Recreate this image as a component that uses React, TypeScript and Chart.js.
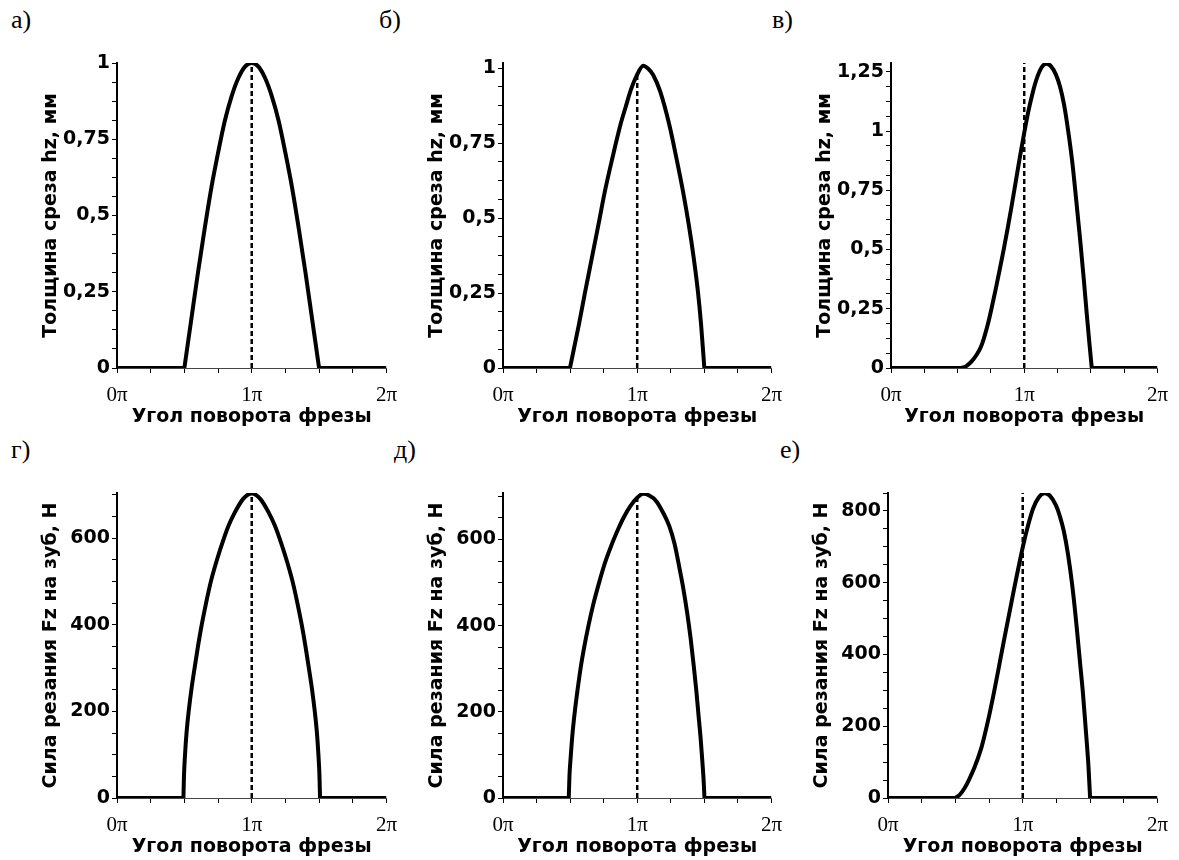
import React, { useEffect, useRef } from 'react';
import { Chart, registerables } from 'chart.js';
Chart.register(...registerables);

// ---------- axis ticks ----------
const xMajorTicks = [0, 1, 2];
const xMajorLabels = ['0π', '1π', '2π'];
const xMinorStep = 0.25;

const hMajorTicks = [0, 0.25, 0.5, 0.75, 1];
const hMajorLabels = ['0', '0,25', '0,5', '0,75', '1'];
const hMajorTicksC = [0, 0.25, 0.5, 0.75, 1, 1.25];
const hMajorLabelsC = ['0', '0,25', '0,5', '0,75', '1', '1,25'];
const hMinorStep = 0.0625;

const fMajorTicks = [0, 200, 400, 600];
const fMajorLabels = ['0', '200', '400', '600'];
const fMajorTicksE = [0, 200, 400, 600, 800];
const fMajorLabelsE = ['0', '200', '400', '600', '800'];
const fMinorStep = 50;

// ---------- data (angle in units of π) ----------
// а) chip thickness hz, mm
const aTheta = [0.5, 0.55, 0.6, 0.65, 0.7, 0.75, 0.8, 0.85, 0.9, 0.95, 1.0, 1.05, 1.1, 1.15, 1.2, 1.25, 1.3, 1.35, 1.4, 1.45, 1.5];
const aH = [0, 0.155, 0.31, 0.455, 0.59, 0.705, 0.81, 0.89, 0.95, 0.988, 1.0, 0.988, 0.95, 0.89, 0.81, 0.705, 0.59, 0.455, 0.31, 0.155, 0];

// б) chip thickness hz, mm
const bTheta = [0.499, 0.565, 0.613, 0.662, 0.711, 0.759, 0.815, 0.875, 0.915, 0.953, 0.996, 1.045, 1.082, 1.118, 1.171, 1.239, 1.292, 1.341, 1.384, 1.421, 1.452, 1.476, 1.5];
const bH = [0, 0.144, 0.256, 0.367, 0.478, 0.589, 0.7, 0.811, 0.872, 0.928, 0.975, 1.008, 0.998, 0.978, 0.922, 0.811, 0.7, 0.589, 0.478, 0.367, 0.256, 0.144, 0];

// в) chip thickness hz, mm
const cTheta = [0.518, 0.54, 0.565, 0.591, 0.62, 0.645, 0.664, 0.685, 0.705, 0.725, 0.755, 0.786, 0.817, 0.848, 0.878, 0.908, 0.938, 0.969, 1.0, 1.031, 1.065, 1.092, 1.13, 1.165, 1.2, 1.238, 1.27, 1.299, 1.33, 1.36, 1.39, 1.421, 1.447, 1.47, 1.49, 1.507];
const cH = [0, 0.002, 0.008, 0.02, 0.038, 0.058, 0.076, 0.104, 0.14, 0.18, 0.252, 0.333, 0.418, 0.506, 0.597, 0.692, 0.792, 0.895, 0.992, 1.083, 1.165, 1.218, 1.268, 1.284, 1.274, 1.238, 1.185, 1.111, 1.0, 0.872, 0.71, 0.534, 0.375, 0.224, 0.1, 0];

// г) cutting force Fz, N
const dTheta = [0.493, 0.497, 0.505, 0.516, 0.532, 0.552, 0.576, 0.601, 0.629, 0.661, 0.697, 0.742, 0.794, 0.83, 0.871, 0.935, 1.0, 1.065, 1.129, 1.17, 1.206, 1.258, 1.303, 1.339, 1.371, 1.399, 1.424, 1.448, 1.468, 1.484, 1.495, 1.503, 1.507];
const dF = [0, 50, 100, 150, 200, 250, 300, 350, 400, 450, 500, 550, 600, 630, 657, 690, 703, 690, 657, 630, 600, 550, 500, 450, 400, 350, 300, 250, 200, 150, 100, 50, 0];

// д) cutting force Fz, N
const ddTheta = [0.49, 0.495, 0.505, 0.518, 0.534, 0.555, 0.577, 0.605, 0.636, 0.673, 0.716, 0.762, 0.812, 0.855, 0.897, 0.95, 1.0, 1.043, 1.09, 1.142, 1.19, 1.239, 1.278, 1.312, 1.344, 1.372, 1.398, 1.421, 1.44, 1.457, 1.472, 1.484, 1.494, 1.501];
const ddF = [0, 50, 98, 150, 198, 250, 299, 350, 399, 450, 500, 548, 590, 622, 650, 678, 697, 706, 702, 689, 664, 631, 590, 538, 485, 430, 370, 307, 250, 191, 140, 90, 45, 0];

// е) cutting force Fz, N
const eTheta = [0.496, 0.53, 0.569, 0.6, 0.641, 0.69, 0.714, 0.75, 0.787, 0.823, 0.859, 0.932, 1.004, 1.04, 1.077, 1.12, 1.161, 1.2, 1.246, 1.276, 1.306, 1.337, 1.367, 1.397, 1.427, 1.447, 1.464, 1.478, 1.488, 1.5];
const eF = [0, 8, 28, 50, 84, 136, 170, 228, 295, 365, 436, 575, 705, 760, 807, 838, 849, 843, 816, 785, 742, 677, 594, 490, 371, 292, 210, 142, 88, 0];

// vertical dashed marker at 1π: top value; axis maxima
const dashTops = [1.0, 0.98, 1.287, 704, 698, 850];
const yMaxes = [1.0, 1.017, 1.287, 704, 708, 850];

const titleH = 'Толщина среза hz, мм';
const titleF = 'Сила резания Fz на зуб, Н';
const titleX = 'Угол поворота фрезы';

// ---------- layout ----------
const Y_W = 90;
const PAD_T = 25;
const PAD_R = 14;
const X_H = 62;

type PanelCfg = {
  letter: string;
  lx: number;
  ly: number;
  theta: number[];
  vals: number[];
  yMax: number;
  majors: number[];
  labels: string[];
  minorStep: number;
  yTitle: string;
  dashTop: number;
  area: { l: number; r: number; t: number; b: number };
};

const panels: PanelCfg[] = [
  { letter: 'а)', lx: 11, ly: 7, theta: aTheta, vals: aH, yMax: yMaxes[0], majors: hMajorTicks, labels: hMajorLabels, minorStep: hMinorStep, yTitle: titleH, dashTop: dashTops[0], area: { l: 117, r: 393, t: 63, b: 368 } },
  { letter: 'б)', lx: 379, ly: 7, theta: bTheta, vals: bH, yMax: yMaxes[1], majors: hMajorTicks, labels: hMajorLabels, minorStep: hMinorStep, yTitle: titleH, dashTop: dashTops[1], area: { l: 503, r: 778, t: 63, b: 368 } },
  { letter: 'в)', lx: 772, ly: 7, theta: cTheta, vals: cH, yMax: yMaxes[2], majors: hMajorTicksC, labels: hMajorLabelsC, minorStep: hMinorStep, yTitle: titleH, dashTop: dashTops[2], area: { l: 891, r: 1164, t: 63, b: 368 } },
  { letter: 'г)', lx: 11, ly: 437, theta: dTheta, vals: dF, yMax: yMaxes[3], majors: fMajorTicks, labels: fMajorLabels, minorStep: fMinorStep, yTitle: titleF, dashTop: dashTops[3], area: { l: 117, r: 393, t: 493, b: 798 } },
  { letter: 'д)', lx: 394, ly: 437, theta: ddTheta, vals: ddF, yMax: yMaxes[4], majors: fMajorTicks, labels: fMajorLabels, minorStep: fMinorStep, yTitle: titleF, dashTop: dashTops[4], area: { l: 503, r: 778, t: 493, b: 798 } },
  { letter: 'е)', lx: 780, ly: 437, theta: eTheta, vals: eF, yMax: yMaxes[5], majors: fMajorTicksE, labels: fMajorLabelsE, minorStep: fMinorStep, yTitle: titleF, dashTop: dashTops[5], area: { l: 888, r: 1164, t: 493, b: 798 } },
];

function stepTicks(max: number, step: number): number[] {
  const out: number[] = [];
  for (let i = 0; i * step <= max + 1e-9; i++) out.push(+(i * step).toFixed(6));
  return out;
}

function labelFor(majors: number[], labels: string[], v: number): string {
  const i = majors.findIndex((m) => Math.abs(m - v) < 1e-6);
  return i >= 0 ? labels[i] : '';
}

function Panel({ cfg }: { cfg: PanelCfg }) {
  const ref = useRef<HTMLCanvasElement>(null);
  const left = cfg.area.l - Y_W;
  const top = cfg.area.t - PAD_T;
  const w = Y_W + (cfg.area.r - cfg.area.l) + PAD_R;
  const h = PAD_T + (cfg.area.b - cfg.area.t) + X_H;

  useEffect(() => {
    const n = cfg.theta.length;
    const start = cfg.theta[0];
    const end = cfg.theta[n - 1];
    const xTicks = stepTicks(2, xMinorStep);
    const yTicks = stepTicks(cfg.yMax, cfg.minorStep);
    const boldFont = { family: 'DejaVu Sans', size: 19, weight: 'bold' as const };
    const chart = new Chart(ref.current!, {
      type: 'scatter',
      data: {
        datasets: [
          {
            data: [{ x: 1, y: 0 }, { x: 1, y: cfg.dashTop }],
            showLine: true,
            borderColor: '#000',
            borderWidth: 2.5,
            borderDash: [5, 3],
            pointRadius: 0,
          },
          {
            data: [{ x: 0, y: 0 }, { x: start, y: 0 }],
            showLine: true,
            borderColor: '#000',
            borderWidth: 4,
            pointRadius: 0,
          },
          {
            data: [{ x: end, y: 0 }, { x: 2, y: 0 }],
            showLine: true,
            borderColor: '#000',
            borderWidth: 4,
            pointRadius: 0,
          },
          {
            data: cfg.theta.map((t, i) => ({ x: t, y: cfg.vals[i] })),
            showLine: true,
            borderColor: '#000',
            borderWidth: 4,
            borderCapStyle: 'round',
            borderJoinStyle: 'round',
            pointRadius: 0,
            cubicInterpolationMode: 'monotone',
          },
        ],
      },
      options: {
        animation: false,
        responsive: false,
        maintainAspectRatio: false,
        layout: { padding: { left: 0, top: PAD_T, right: PAD_R, bottom: 0 } },
        plugins: { legend: { display: false }, tooltip: { enabled: false } },
        scales: {
          x: {
            type: 'linear',
            min: 0,
            max: 2,
            bounds: 'data',
            afterBuildTicks: (s: any) => {
              s.ticks = xTicks.map((v) => ({ value: v }));
            },
            afterFit: (s: any) => {
              s.height = X_H;
            },
            ticks: {
              autoSkip: false,
              maxRotation: 0,
              padding: 10,
              color: '#000',
              font: { family: '"Liberation Serif"', size: 21 },
              callback: (v: any) => labelFor(xMajorTicks, xMajorLabels, Number(v)),
            },
            grid: { drawOnChartArea: false, drawTicks: true, tickLength: 5, color: '#000', lineWidth: 1 },
            border: { display: true, color: '#444', width: 1 },
            title: { display: true, text: titleX, color: '#000', font: boldFont, padding: { top: 0, bottom: 2 } },
          },
          y: {
            type: 'linear',
            min: 0,
            max: cfg.yMax,
            bounds: 'data',
            afterBuildTicks: (s: any) => {
              s.ticks = yTicks.map((v) => ({ value: v }));
            },
            afterFit: (s: any) => {
              s.width = Y_W;
            },
            ticks: {
              autoSkip: false,
              padding: 2,
              color: '#000',
              font: boldFont,
              callback: (v: any) => labelFor(cfg.majors, cfg.labels, Number(v)),
            },
            grid: { drawOnChartArea: false, drawTicks: true, tickLength: 5, color: '#000', lineWidth: 1 },
            border: { display: true, color: '#000', width: 2 },
            title: { display: true, text: cfg.yTitle, color: '#000', font: boldFont, padding: { top: 13, bottom: 0 } },
          },
        },
      } as any,
    });
    return () => chart.destroy();
  }, []);

  return (
    <>
      <canvas
        ref={ref}
        width={w}
        height={h}
        style={{ position: 'absolute', left, top, width: w, height: h }}
      />
      <div
        style={{
          position: 'absolute',
          left: cfg.lx,
          top: cfg.ly,
          fontFamily: '"Liberation Serif", serif',
          fontSize: 26,
          lineHeight: '26px',
          color: '#000',
          whiteSpace: 'nowrap',
        }}
      >
        {cfg.letter}
      </div>
    </>
  );
}

export default function App() {
  return (
    <div
      style={{
        position: 'absolute',
        left: 0,
        top: 0,
        width: 1179,
        height: 860,
        overflow: 'hidden',
        background: '#fff',
      }}
    >
      {panels.map((p, i) => (
        <Panel key={i} cfg={p} />
      ))}
    </div>
  );
}
